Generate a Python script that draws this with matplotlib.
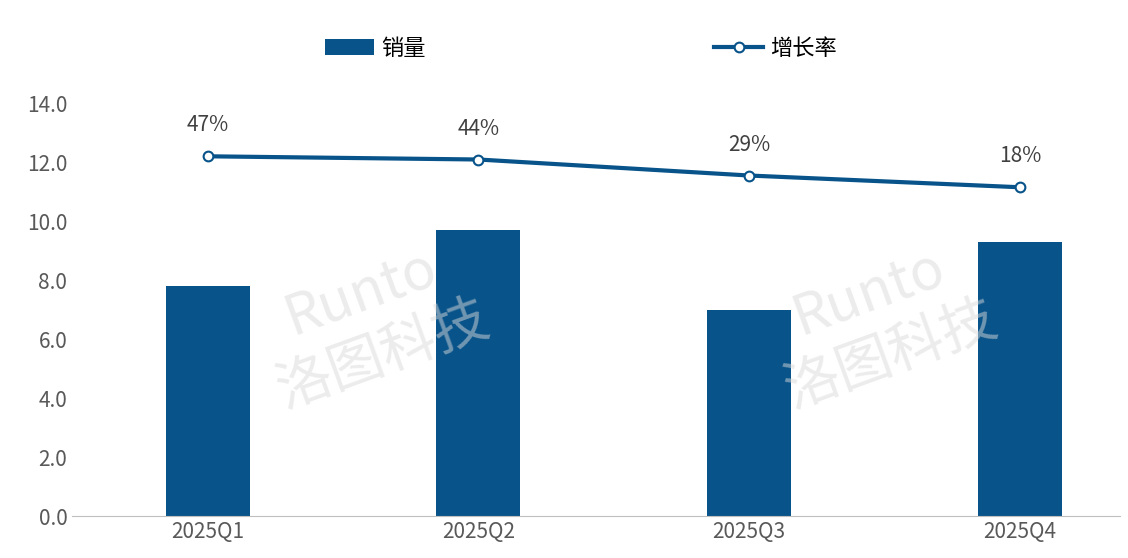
import matplotlib.pyplot as plt
import numpy as np

plt.rcParams['font.family'] = ['Noto Sans CJK SC', 'DejaVu Sans']

quarters = ['2025Q1', '2025Q2', '2025Q3', '2025Q4']
sales = [7.8, 9.7, 7.0, 9.3]
growth = [47, 44, 29, 18]

blue = '#07538a'
fig = plt.figure(figsize=(11.28, 5.58), dpi=100)
ax = fig.add_axes([0.064, 0.075, 0.929, 0.74])
x = np.arange(len(quarters))
ax.bar(x, sales, width=0.31, color=blue, label='销量', zorder=2)
ax.set_ylim(0, 14)
ax.set_xlim(-0.5, 3.37)
ax.set_yticks(np.arange(0, 14.1, 2))
ax.set_yticklabels([f'{v:.1f}' for v in np.arange(0, 14.1, 2)], fontsize=15, color='#595959')
ax.set_xticks(x)
ax.set_xticklabels(quarters, fontsize=15, color='#595959')
ax.tick_params(length=0)
for s in ['top', 'right', 'left']:
    ax.spines[s].set_visible(False)
ax.spines['bottom'].set_color('#bfbfbf')

ax2 = ax.twinx()
ax2.set_ylim(-290, 96.7)
ln, = ax2.plot(x, growth, color=blue, lw=3, marker='o', markersize=7,
               markerfacecolor='white', markeredgecolor=blue, markeredgewidth=1.5, label='增长率')
for xi, g in zip(x, growth):
    ax2.annotate(f'{g}%', (xi, g), xytext=(0, 18), textcoords='offset points',
                 ha='center', fontsize=15, color='#404040')
ax2.axis('off')

# faint watermark
for wx in [0.33, 0.78]:
    fig.text(wx, 0.42, 'Runto\n洛图科技', fontsize=40, color='#d9d9d9', alpha=0.5,
             ha='center', va='center', rotation=20, style='italic', zorder=0)

h1, l1 = ax.get_legend_handles_labels()
fig.legend(h1 + [ln], l1 + ['增长率'], loc='upper center', bbox_to_anchor=(0.515, 0.97),
           ncol=2, frameon=False, fontsize=16, columnspacing=13, handlelength=2.2,
           handletextpad=0.3)
fig.savefig('out.png', dpi=100)
